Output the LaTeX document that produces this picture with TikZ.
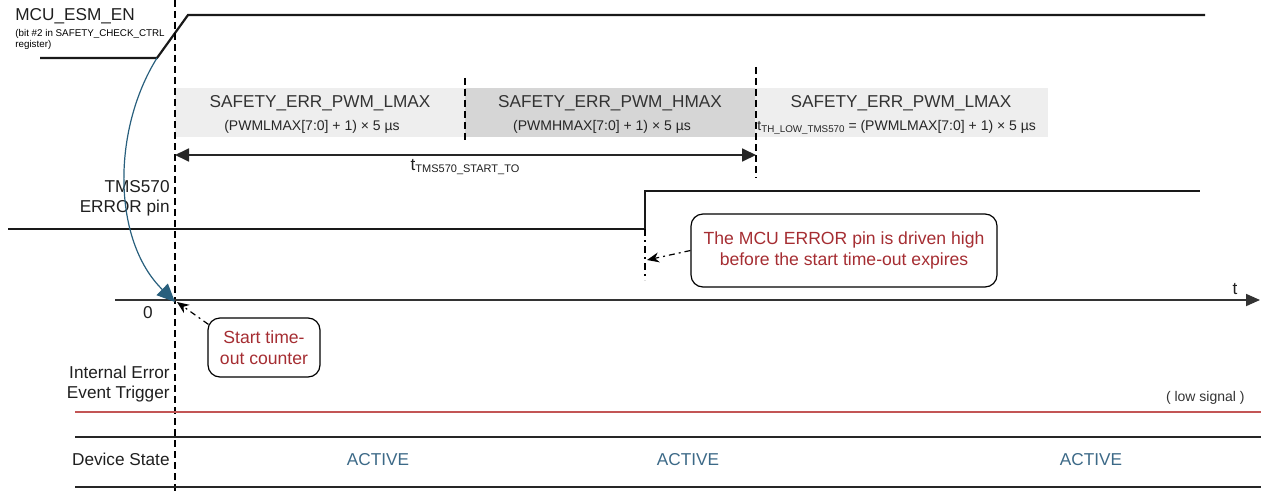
\documentclass[tikz,border=0pt]{standalone}
\usepackage{fontspec}
\setmainfont{Liberation Sans}
\usetikzlibrary{arrows.meta,positioning,calc}
\definecolor{notered}{RGB}{165,45,50}
\definecolor{activeblue}{RGB}{60,105,135}
\definecolor{curveblue}{RGB}{40,95,125}
\definecolor{trigred}{RGB}{195,85,85}
\definecolor{boxlight}{RGB}{238,238,238}
\definecolor{boxdark}{RGB}{214,214,214}
\newcommand{\subtxt}[2]{\raisebox{-1pt}{\fontsize{#1}{#1}\selectfont #2}}

\begin{document}
\begin{tikzpicture}[x=0.5pt,y=-0.5pt,
    sigline/.style={line width=1.1pt,black!90},
    guide/.style={line width=0.75pt,dash pattern=on 3.5pt off 2pt},
    axis/.style={line width=0.9pt,black!80,-{Triangle[length=7pt,width=6pt]}},
    phasebox/.style={fill=#1,draw=none,inner sep=0pt,minimum height=24.5pt},
    lbl/.style={font=\fontsize{8.6}{10}\selectfont,inner sep=0pt,text=black!88},
    tinylbl/.style={font=\fontsize{4.9}{5.5}\selectfont,inner sep=0pt,align=left},
    phasetxt/.style={font=\fontsize{8.6}{10}\selectfont,inner sep=0pt,text=black!80},
    phasesub/.style={font=\fontsize{7}{8}\selectfont,inner sep=0pt,text=black!85},
    note/.style={draw,line width=0.6pt,rounded corners=6pt,align=center,text=notered,
                 font=\fontsize{8.8}{10.5}\selectfont,inner sep=0pt},
    notearrow/.style={line width=0.6pt,dash pattern=on 3pt off 2pt on 1pt off 2pt,
                 -{Stealth[length=6pt,width=5pt]}},
    state/.style={font=\fontsize{8.6}{10}\selectfont,text=activeblue,inner sep=0pt},
  ]
  \useasboundingbox (0,0) rectangle (1261,492);

  % ---------------------------------------------------------------- MCU_ESM_EN
  \node[lbl,anchor=base west] (esmlbl) at (15,21) {MCU\_ESM\_EN};
  \node[tinylbl,anchor=north west] (esmnote) at (15,29)
    {(bit \#2 in SAFETY\_CHECK\_CTRL\\register)};
  \coordinate (esmfoot) at (157,58);
  \draw[sigline] (40,58) -- (esmfoot) -- (188,15) -- (1205,15);

  % ---------------------------------------------------------------- phases
  \node[phasebox=boxlight,minimum width=145pt] (ph1) at (320,112.5) {};
  \node[phasebox=boxdark,minimum width=145pt] (ph2) at (610,112.5) {};
  \node[phasebox=boxlight,minimum width=146.5pt] (ph3) at (901.5,112.5) {};
  \foreach \p/\x/\n in {ph1/320/LMAX, ph2/610/HMAX, ph3/901/LMAX}
    \node[phasetxt,anchor=base] (\p t) at (\x,107) {SAFETY\_ERR\_PWM\_\n};
  \node[phasesub,anchor=base] (ph1s) at (312,130) {(PWMLMAX[7:0] + 1) × 5 µs};
  \node[phasesub,anchor=base] (ph2s) at (602,130) {(PWMHMAX[7:0] + 1) × 5 µs};
  \node[phasesub,anchor=base west] (ph3s) at (757,130)
    {t\subtxt{4.9}{TH\_LOW\_TMS570} = (PWMLMAX[7:0] + 1) × 5 µs};

  % guides
  \draw[guide] (175,0) -- (175,492);
  \draw[guide] (465,78) -- (465,143);
  \draw[guide] (756,67) -- (756,178);

  % start time-out span
  \coordinate (spanA) at (175,155);
  \coordinate (spanB) at (756,155);
  \draw[line width=0.9pt,black!85,{Triangle[length=7pt,width=6.5pt]}-{Triangle[length=7pt,width=6.5pt]}]
    (spanA) -- (spanB);
  \node[lbl,anchor=base] (spanlbl) at (465,170) {t\subtxt{5.5}{TMS570\_START\_TO}};

  % ---------------------------------------------------------------- ERROR pin
  \node[lbl,anchor=base east] (errlbl1) at (170,192) {TMS570};
  \node[lbl,anchor=base east] (errlbl2) at (170,212) {ERROR pin};
  \coordinate (errrise) at (645,229);
  \draw[sigline] (8,229) -- (errrise) -- (645,191) -- (1200,191);
  \draw[guide,dash pattern=on 3.5pt off 2pt on 1pt off 2pt] (errrise) -- (645,280);

  \node[note,minimum width=153pt,minimum height=36.5pt] (highnote) at (844,250.5)
    {The MCU ERROR pin is driven high\\before the start time-out expires};
  \coordinate (hightip) at (647,260);
  \draw[notearrow] (highnote.west) -- (hightip);

  % ---------------------------------------------------------------- time axis
  \coordinate (zero) at (175,302);
  \draw[axis] (115,300) -- (1260,300);
  \node[lbl,anchor=base] (tlbl) at (1235,294) {t};
  \node[lbl,anchor=base] (zerolbl) at (148,318) {0};

  \draw[curveblue,line width=0.6pt,-{Triangle[length=9pt,width=8pt]}]
    (esmfoot) .. controls (112,130) and (112,240) .. (zero);

  \node[note,minimum width=56pt,minimum height=29.5pt] (stnote) at (264,347.5)
    {Start time-\\out counter};
  \coordinate (sttip) at (177,302);
  \draw[notearrow] ($(stnote.north west)+(1,7)$) -- (sttip);

  % ---------------------------------------------------------------- trigger / state
  \node[lbl,anchor=base east] (trig1) at (170,378) {Internal Error};
  \node[lbl,anchor=base east] (trig2) at (170,398) {Event Trigger};
  \node[font=\fontsize{7}{8}\selectfont,inner sep=0pt,anchor=base east,text=black!80]
    (lowlbl) at (1245,401) {( low signal )};
  \draw[trigred,line width=0.9pt] (75,412) -- (1261,412);

  \draw[line width=1.2pt,black!85] (75,437) -- (1261,437);
  \draw[line width=1.2pt,black!85] (75,487) -- (1261,487);
  \node[lbl,anchor=base east] (statelbl) at (170,465) {Device State};
  \foreach \x [count=\i] in {378,688,1091}
    \node[state,anchor=base] (act\i) at (\x,465) {ACTIVE};
\end{tikzpicture}
\end{document}
